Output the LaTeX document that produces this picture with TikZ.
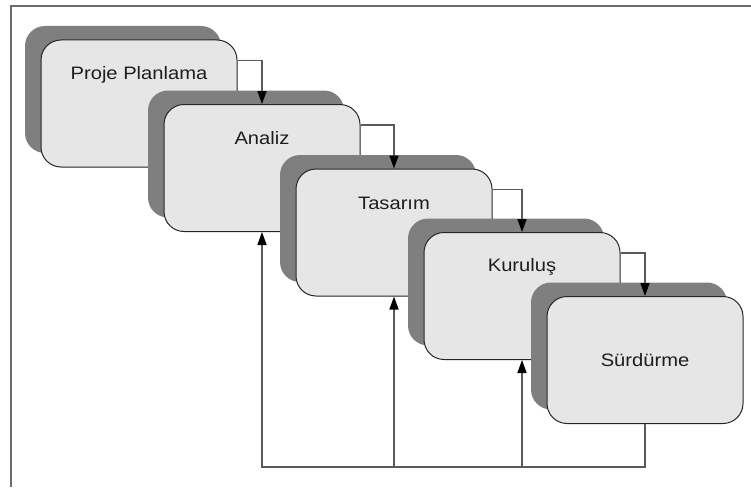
\documentclass[tikz,border=0pt]{standalone}
\usepackage{fontspec}
\setmainfont[FakeStretch=1.12]{Liberation Sans}
\usetikzlibrary{arrows.meta,calc}
\definecolor{shadowgray}{HTML}{7F7F7F}
\definecolor{boxfill}{HTML}{E6E6E6}
\definecolor{linegray}{HTML}{5A5A5A}
\definecolor{txt}{HTML}{1E1E1E}
\begin{document}
\begin{tikzpicture}[x=1pt,y=-1pt,
  front/.style={draw=black!85, line width=1pt, fill=boxfill, rounded corners=20pt,
    minimum width=196pt, minimum height=127pt, inner sep=0pt},
  shade/.style={fill=shadowgray, rounded corners=20pt,
    minimum width=196pt, minimum height=127pt, inner sep=0pt},
  lbl/.style={font=\fontsize{18}{20}\selectfont, text=txt, inner sep=0pt},
  conn/.style={draw=linegray, line width=1.5pt},
  tip/.style={-{Triangle[length=13pt,width=9pt,black]}}
]
\useasboundingbox (0,0) rectangle (751,487);
% frame (top and left)
\draw[draw=gray!85!black, line width=1.8pt] (751,6) -- (11,6) -- (11,487);

% boxes
\node[shade] (s1) at (123,89.5) {};
\node[front] (p1) at (139,103.5) {};
\node[shade] (s2) at (246,154) {};
\node[front] (p2) at (262,168) {};
\node[shade] (s3) at (378,218.5) {};
\node[front] (p3) at (394,232.5) {};
\node[shade] (s4) at (506,282) {};
\node[front] (p4) at (522,296) {};
\node[shade] (s5) at (629,346) {};
\node[front] (p5) at (645,360) {};

% labels
\node[lbl] (t1) at ($(p1.north)+(0,35)$) {Proje Planlama};
\node[lbl] (t2) at ($(p2.north)+(0,34)$) {Analiz};
\node[lbl] (t3) at ($(p3.north)+(0,35)$) {Tasarım};
\node[lbl] (t4) at ($(p4.north)+(0,35)$) {Kuruluş};
\node[lbl] (t5) at (p5.center) {Sürdürme};

% forward connectors
\draw[conn,tip] ([yshift=-21pt]p1.north east) -| (p2.north);
\draw[conn,tip] ([yshift=-21pt]p2.north east) -| (p3.north);
\draw[conn,tip] ([yshift=-21pt]p3.north east) -| (p4.north);
\draw[conn,tip] ([yshift=-21pt]p4.north east) -| (p5.north);

% feedback connectors
\coordinate (fb) at (645,467);
\draw[conn,tip] (p5.south) |- (p2.south |- fb) -- (p2.south);
\draw[conn,tip] (p3.south |- fb) -- (p3.south);
\draw[conn,tip] (p4.south |- fb) -- (p4.south);
\end{tikzpicture}
\end{document}
